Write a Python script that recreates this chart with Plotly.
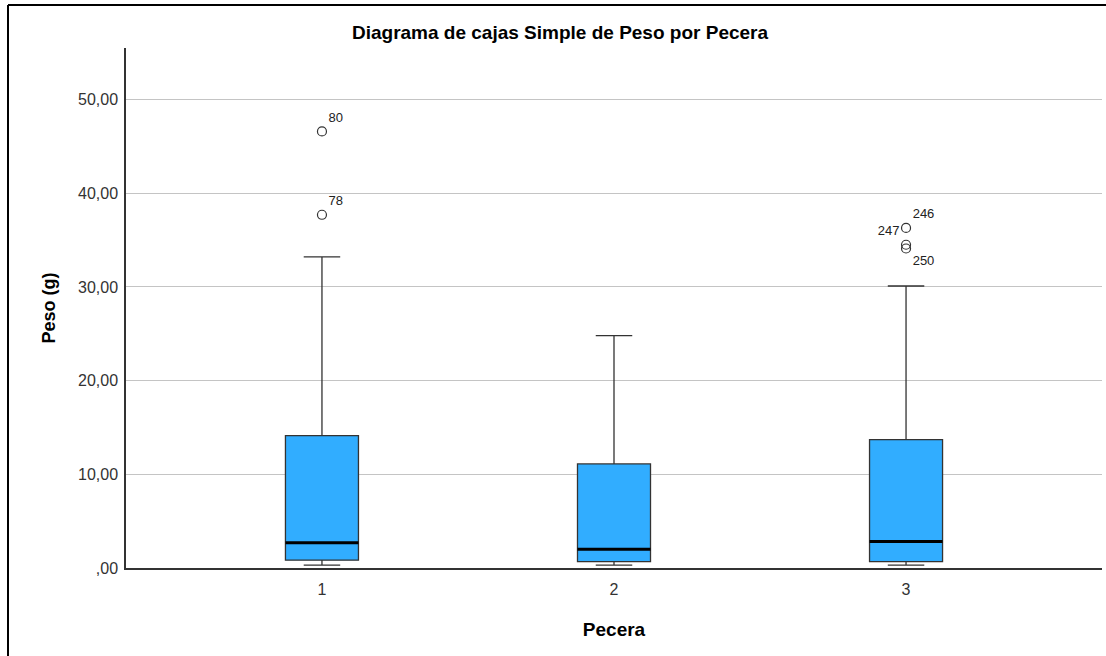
import plotly.graph_objects as go

# ---- data ----
categories = [1, 2, 3]
category_labels = ["1", "2", "3"]
q1 = [0.83, 0.69, 0.69]
median = [2.69, 2.00, 2.83]
q3 = [14.13, 11.11, 13.70]
lower_whisker = [0.30, 0.30, 0.30]
upper_whisker = [33.2, 24.8, 30.1]

outlier_x = [1, 1, 3, 3, 3]
outlier_y = [46.6, 37.7, 36.3, 34.5, 34.1]
outlier_ids = ["80", "78", "246", "247", "250"]
outlier_label_pos = ["top right", "top right", "top right", "top left", "bottom right"]

y_tickvals = [0, 10, 20, 30, 40, 50]
y_ticktext = [",00", "10,00", "20,00", "30,00", "40,00", "50,00"]

BOX_W = 0.25
FONT = "Liberation Sans, Arial, sans-serif"

fig = go.Figure()

fig.add_trace(go.Box(
    x=categories, q1=q1, median=median, q3=q3,
    lowerfence=lower_whisker, upperfence=upper_whisker,
    width=BOX_W, whiskerwidth=0.5,
    fillcolor="#31adff",
    line=dict(color="#333333", width=1.3),
    boxpoints=False, showlegend=False, hoverinfo="skip",
))

# thick median lines
for xc, m in zip(categories, median):
    fig.add_trace(go.Scatter(
        x=[xc - BOX_W / 2, xc + BOX_W / 2], y=[m, m], mode="lines",
        line=dict(color="#000000", width=3), showlegend=False, hoverinfo="skip",
    ))

fig.add_trace(go.Scatter(
    x=outlier_x, y=outlier_y, mode="markers+text",
    marker=dict(symbol="circle-open", size=9, color="#333333", line=dict(width=1.2)),
    text=outlier_ids, textposition=outlier_label_pos,
    textfont=dict(family=FONT, size=13, color="#222222"),
    showlegend=False, hoverinfo="skip",
))

fig.update_layout(
    width=1106, height=656,
    margin=dict(l=126, r=4, t=48, b=88),
    paper_bgcolor="white", plot_bgcolor="white",
    title=dict(text="<b>Diagrama de cajas Simple de Peso por Pecera</b>",
               x=560 / 1106, xref="container", xanchor="center", y=1 - 32 / 656, yanchor="middle",
               font=dict(family=FONT, size=19, color="#000000")),
    font=dict(family=FONT),
    shapes=[
        dict(type="line", xref="paper", yref="paper",
             x0=(8 - 126) / 976, x1=(8 - 126) / 976, y0=(48 - 700) / 520 + 1, y1=1 + (48 - 5) / 520,
             line=dict(color="black", width=2)),
        dict(type="line", xref="paper", yref="paper",
             x0=(8 - 126) / 976, x1=1.1, y0=1 + (48 - 5) / 520, y1=1 + (48 - 5) / 520,
             line=dict(color="black", width=2)),
    ],
)

fig.update_xaxes(
    range=[0.329, 3.671], tickvals=categories, ticktext=category_labels,
    showgrid=False, zeroline=False, showline=True, linecolor="#333333", linewidth=1.5,
    ticks="", ticklabelstandoff=6, tickfont=dict(family=FONT, size=16, color="#333333"),
    title=dict(text="<b>Pecera</b>", font=dict(family=FONT, size=19, color="#000000"), standoff=26),
)
fig.update_yaxes(
    range=[0, 55.5], tickvals=y_tickvals, ticktext=y_ticktext,
    showgrid=True, gridcolor="#c4c4c4", gridwidth=1, zeroline=False,
    showline=True, linecolor="#333333", linewidth=1.5,
    ticks="", ticklabelstandoff=3, tickfont=dict(family=FONT, size=16, color="#333333"),
    title=dict(text="<b>Peso (g)</b>", font=dict(family=FONT, size=18, color="#000000"), standoff=18),
)

fig.write_html("out.html")
